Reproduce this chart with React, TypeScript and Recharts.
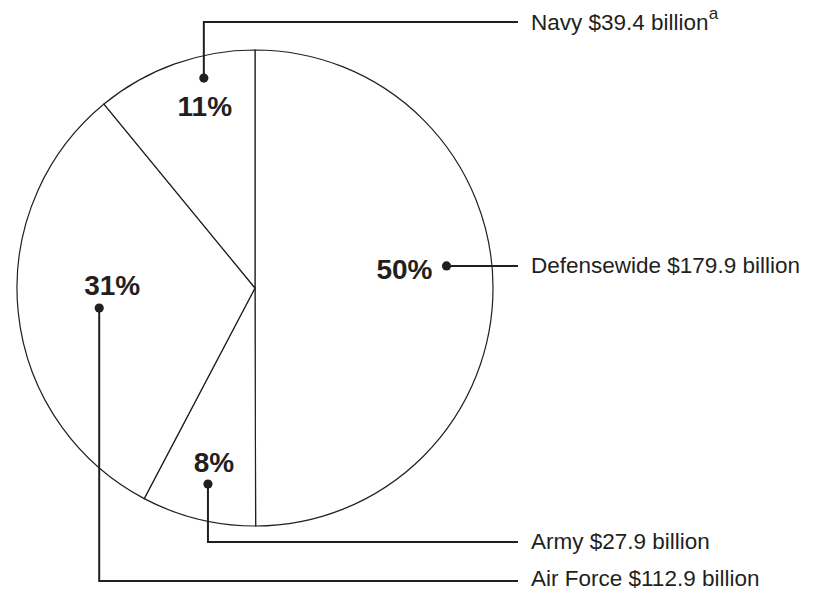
import { PieChart, Pie, Cell } from "recharts";

const SERVICES = ["Defensewide", "Army", "Air Force", "Navy"];
const BUDGET_BILLIONS = [179.9, 27.9, 112.9, 39.4];
const FOOTNOTES = ["", "", "", "a"];

const DATA = SERVICES.map((name, i) => ({ name, value: BUDGET_BILLIONS[i], note: FOOTNOTES[i] }));

// where each callout sits relative to its slice
const CALLOUTS: Record<string, { shift: number; r: number; dx: number; dy: number; anchor: string; elbowY?: number; textDy: number }> = {
  Defensewide: { shift: 6.5, r: 0.81, dx: -14, dy: 4, anchor: "end", textDy: 0 },
  Army: { shift: 0.3, r: 0.847, dx: 6, dy: -21.5, anchor: "middle", elbowY: 542, textDy: -1 },
  "Air Force": { shift: 1.5, r: 0.66, dx: 13, dy: -23, anchor: "middle", elbowY: 581, textDy: -3 },
  Navy: { shift: -6, r: 0.908, dx: 1, dy: 28, anchor: "middle", elbowY: 22, textDy: 0 },
};

const INK = "#231f20";
const FONT = "'Liberation Sans', Arial, Helvetica, sans-serif";
const RADIAN = Math.PI / 180;
const LINE_END = 518;
const TEXT_X = 531;

function renderCallout(props: any) {
  const { cx, cy, midAngle, outerRadius, percent, name, payload } = props;
  const c = CALLOUTS[name];
  const a = (midAngle + c.shift) * RADIAN;
  const dotX = cx + c.r * outerRadius * Math.cos(-a);
  const dotY = cy + c.r * outerRadius * Math.sin(-a);
  const elbowY = c.elbowY ?? dotY;
  const note = payload?.note ?? "";

  return (
    <g>
      <text x={dotX + c.dx} y={dotY + c.dy} textAnchor={c.anchor as any} dominantBaseline="central"
        fontFamily={FONT} fontWeight={700} fontSize={28} fill={INK}>
        {Math.round(percent * 100)}%
      </text>
      <polyline points={`${dotX},${dotY} ${dotX},${elbowY} ${LINE_END},${elbowY}`} fill="none" stroke={INK} strokeWidth={2} />
      <circle cx={dotX} cy={dotY} r={4.6} fill={INK} />
      <text x={TEXT_X} y={elbowY + c.textDy} dominantBaseline="central" fontFamily={FONT} fontSize={22.5} fill={INK}>
        {name} ${payload.value} billion
        {note && <tspan dy={-9} fontSize={17}>{note}</tspan>}
      </text>
    </g>
  );
}

export default function App() {
  return (
    <div style={{ position: "absolute", left: 0, top: 0, width: 815, height: 592, background: "#fff" }}>
      <PieChart width={815} height={592}>
        <Pie data={DATA} dataKey="value" nameKey="name" cx={250} cy={283} outerRadius={238}
          startAngle={90} endAngle={-270} stroke={INK} strokeWidth={1.2}
          labelLine={false} label={renderCallout} isAnimationActive={false}>
          {DATA.map((d) => (
            <Cell key={d.name} fill="#fff" />
          ))}
        </Pie>
      </PieChart>
    </div>
  );
}
